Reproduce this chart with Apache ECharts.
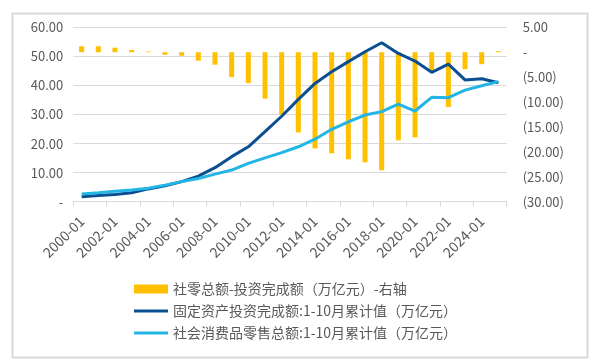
<!DOCTYPE html>
<html>
<head>
<meta charset="utf-8">
<script src="https://cdn.jsdelivr.net/npm/echarts@6/dist/echarts.min.js"></script>
<style>html,body{margin:0;padding:0;background:#fff;}#c{width:595px;height:364px;}</style>
</head>
<body>
<div id="c"></div>
<script>
var categories = ['2000-01','2001-01','2002-01','2003-01','2004-01','2005-01','2006-01','2007-01','2008-01','2009-01','2010-01','2011-01','2012-01','2013-01','2014-01','2015-01','2016-01','2017-01','2018-01','2019-01','2020-01','2021-01','2022-01','2023-01','2024-01','2025-01'];
var gapValues = [1.2, 1.2, 0.9, 0.45, 0.15, -0.5, -0.7, -1.7, -2.5, -5.0, -6.2, -9.3, -12.5, -16.1, -19.3, -20.3, -21.5, -22.1, -23.7, -17.7, -17.1, -4.0, -11.0, -3.4, -2.4, 0.2];
var faiValues = [1.7, 2.1, 2.5, 3.1, 4.4, 5.5, 6.9, 8.8, 11.7, 15.5, 18.9, 24.1, 29.4, 35.2, 40.7, 44.7, 48.2, 51.6, 54.7, 51.0, 48.4, 44.5, 47.3, 41.9, 42.3, 40.9];
var retailValues = [2.65, 3.1, 3.6, 4.0, 4.6, 5.7, 6.9, 8.0, 9.5, 10.9, 13.2, 15.1, 16.9, 18.9, 21.5, 24.9, 27.5, 29.8, 31.0, 33.6, 31.2, 35.9, 35.8, 38.4, 39.9, 41.3];
var seriesNames = ['社零总额-投资完成额（万亿元）-右轴', '固定资产投资完成额:1-10月累计值（万亿元）', '社会消费品零售总额:1-10月累计值（万亿元）'];

var FONT = 'Noto Sans CJK SC';
var TXT = '#595959';
var LINE_ICON = 'path://M0,0h34v3h-34z';
var chart = echarts.init(document.getElementById('c'), null, {renderer: 'canvas'});
chart.setOption({
  animation: false,
  backgroundColor: '#fff',
  graphic: [{
    type: 'rect', left: 10, top: 11, silent: true,
    shape: {x: 0, y: 0, width: 575, height: 344},
    style: {fill: 'none', stroke: '#d9d9d9', lineWidth: 2}
  }],
  grid: {left: 73.3, right: 88.3, top: 27.3, bottom: 162.3, containLabel: false},
  legend: {
    orient: 'vertical', left: 129, top: 277,
    itemWidth: 34, itemHeight: 9, itemGap: 8,
    textStyle: {fontFamily: FONT, fontSize: 14, color: TXT},
    data: [
      {name: seriesNames[0], icon: 'rect'},
      {name: seriesNames[1], icon: LINE_ICON},
      {name: seriesNames[2], icon: LINE_ICON}
    ]
  },
  xAxis: {
    type: 'category', data: categories, boundaryGap: true,
    axisLine: {lineStyle: {color: '#d9d9d9', width: 1}},
    axisTick: {show: true, interval: 1, length: 5, lineStyle: {color: '#d9d9d9'}},
    axisLabel: {interval: 1, rotate: 45, margin: 17, fontFamily: FONT, fontSize: 14, color: TXT}
  },
  yAxis: [{
    type: 'value', min: 0, max: 60, interval: 10,
    axisLine: {show: false}, axisTick: {show: false},
    splitLine: {lineStyle: {color: '#d9d9d9', width: 1}},
    axisLabel: {margin: 10, fontFamily: FONT, fontSize: 13, color: TXT,
      formatter: function (v) { return v === 0 ? '-' : v.toFixed(2); }}
  }, {
    type: 'value', min: -30, max: 5, interval: 5, position: 'right',
    axisLine: {show: false}, axisTick: {show: false}, splitLine: {show: false},
    axisLabel: {margin: 16, fontFamily: FONT, fontSize: 13, color: TXT,
      formatter: function (v) { return v === 0 ? '-' : (v < 0 ? '(' + Math.abs(v).toFixed(2) + ')' : v.toFixed(2)); }}
  }],
  series: [{
    name: seriesNames[0], type: 'bar', yAxisIndex: 1, data: gapValues,
    barWidth: 5, itemStyle: {color: '#FFC000'}
  }, {
    name: seriesNames[1], type: 'line', yAxisIndex: 0, data: faiValues,
    symbol: 'none', lineStyle: {color: '#0B4F92', width: 3}, itemStyle: {color: '#0B4F92'}
  }, {
    name: seriesNames[2], type: 'line', yAxisIndex: 0, data: retailValues,
    symbol: 'none', lineStyle: {color: '#22B5E6', width: 3}, itemStyle: {color: '#22B5E6'}
  }]
});
</script>
</body>
</html>
